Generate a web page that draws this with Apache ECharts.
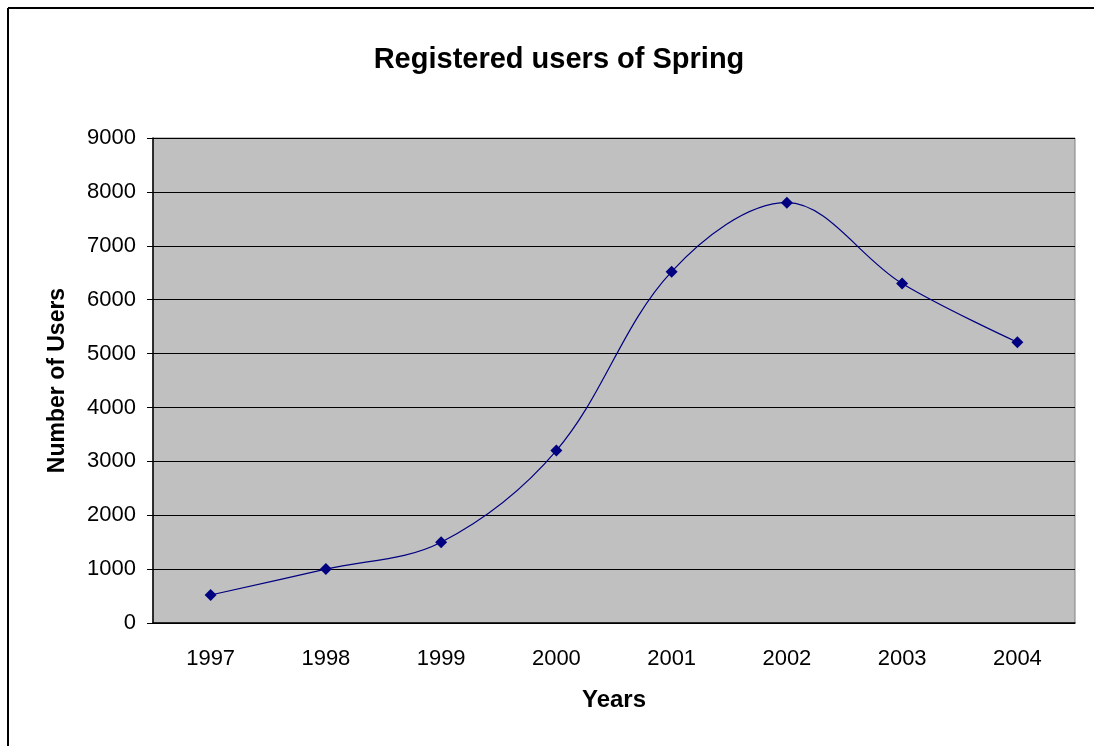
<!DOCTYPE html>
<html>
<head>
<meta charset="utf-8">
<script src="https://cdn.jsdelivr.net/npm/echarts@6/dist/echarts.min.js"></script>
<style>
  html, body { margin: 0; padding: 0; background: #fff; }
  #chart { width: 1094px; height: 746px; }
</style>
</head>
<body>
<div id="chart"></div>
<script>
const years = ['1997', '1998', '1999', '2000', '2001', '2002', '2003', '2004']
const users = [520, 1000, 1500, 3200, 6520, 7800, 6300, 5210]

const chart = echarts.init(document.getElementById('chart'))

chart.setOption({
  animation: false,
  textStyle: { fontFamily: 'Arial, "Liberation Sans", sans-serif' },
  title: {
    text: 'Registered users of Spring',
    left: 554,
    top: 40,
    textAlign: 'center',
    textStyle: { fontSize: 29, fontWeight: 'bold', color: '#000' },
  },
  graphic: [
    { type: 'line', shape: { x1: 8, y1: 8, x2: 1094, y2: 8 }, style: { stroke: '#000', lineWidth: 2 } },
    { type: 'line', shape: { x1: 8, y1: 8, x2: 8, y2: 746 }, style: { stroke: '#000', lineWidth: 2 } },
  ],
  grid: {
    left: 153,
    right: 19,
    top: 138,
    bottom: 123,
    show: true,
    backgroundColor: '#c0c0c0',
    borderColor: '#808080',
    borderWidth: 1,
  },
  xAxis: {
    type: 'category',
    data: years,
    boundaryGap: true,
    name: 'Years',
    nameLocation: 'middle',
    nameGap: 65,
    nameTextStyle: { fontSize: 24, fontWeight: 'bold', color: '#000' },
    axisLine: { lineStyle: { color: '#000', width: 1.5 } },
    axisTick: { length: 7, lineStyle: { color: '#000' } },
    axisLabel: { fontSize: 22, color: '#000', margin: 25 },
  },
  yAxis: {
    type: 'value',
    min: 0,
    max: 9000,
    interval: 1000,
    name: 'Number of Users',
    nameLocation: 'middle',
    nameGap: 84,
    nameTextStyle: { fontSize: 23, fontWeight: 'bold', color: '#000' },
    axisLine: { show: true, lineStyle: { color: '#000', width: 1.5 } },
    axisTick: { show: true, length: 6, lineStyle: { color: '#000' } },
    axisLabel: { fontSize: 22, color: '#000', margin: 17, formatter: (v) => String(v) },
    splitLine: { lineStyle: { color: '#000', width: 1 } },
  },
  series: [
    {
      type: 'line',
      data: users,
      smooth: 0.35,
      symbol: 'diamond',
      symbolSize: 12,
      itemStyle: { color: '#000080' },
      lineStyle: { color: '#000080', width: 1.2 },
    },
  ],
})
</script>
</body>
</html>
